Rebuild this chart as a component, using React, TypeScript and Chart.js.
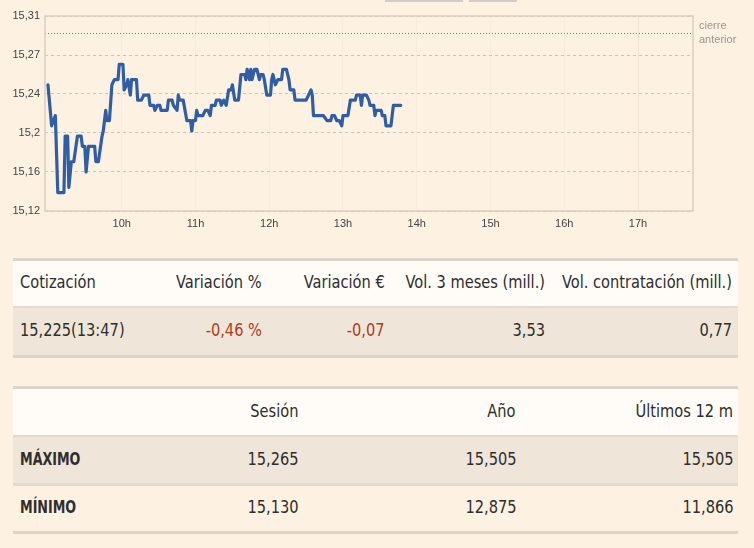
import React, { useEffect, useRef } from "react";
import { Chart, registerables } from "chart.js";

Chart.register(...registerables);

// ---- data ----
const times = [
  "09:00", "09:03", "09:06", "09:08", "09:13", "09:14", "09:16", "09:17", "09:19", "09:21",
  "09:24", "09:27", "09:28", "09:30", "09:31", "09:33", "09:38", "09:39", "09:41", "09:44",
  "09:45", "09:47", "09:48", "09:50", "09:52", "09:54", "09:57", "09:58", "10:01", "10:02",
  "10:04", "10:05", "10:07", "10:08", "10:12", "10:13", "10:16", "10:18", "10:22", "10:23",
  "10:26", "10:27", "10:29", "10:31", "10:32", "10:37", "10:38", "10:41", "10:42", "10:45",
  "10:46", "10:47", "10:50", "10:53", "10:56", "10:57", "10:58", "11:00", "11:01", "11:02",
  "11:06", "11:08", "11:10", "11:12", "11:13", "11:16", "11:17", "11:20", "11:21", "11:23",
  "11:25", "11:27", "11:29", "11:30", "11:32", "11:35", "11:37", "11:40", "11:41", "11:42",
  "11:44", "11:45", "11:46", "11:48", "11:50", "11:52", "11:53", "11:55", "11:56", "11:58",
  "12:01", "12:02", "12:03", "12:05", "12:07", "12:10", "12:11", "12:14", "12:16", "12:17",
  "12:20", "12:21", "12:30", "12:32", "12:34", "12:35", "12:36", "12:44", "12:47", "12:50",
  "12:51", "12:53", "12:55", "12:57", "12:59", "13:00", "13:04", "13:06", "13:10", "13:11",
  "13:14", "13:15", "13:16", "13:19", "13:21", "13:22", "13:25", "13:26", "13:27", "13:31",
  "13:32", "13:34", "13:35", "13:39", "13:41", "13:47",
];

const prices = [
  15.245, 15.205, 15.215, 15.14, 15.14, 15.195, 15.195, 15.145, 15.17, 15.17,
  15.195, 15.195, 15.185, 15.185, 15.16, 15.185, 15.185, 15.17, 15.17, 15.195,
  15.2, 15.22, 15.21, 15.21, 15.245, 15.25, 15.25, 15.265, 15.265, 15.24,
  15.245, 15.25, 15.235, 15.25, 15.25, 15.23, 15.23, 15.235, 15.235, 15.225,
  15.225, 15.22, 15.225, 15.225, 15.22, 15.22, 15.23, 15.23, 15.225, 15.22,
  15.235, 15.23, 15.23, 15.21, 15.21, 15.2, 15.21, 15.21, 15.22, 15.215,
  15.215, 15.22, 15.22, 15.215, 15.225, 15.225, 15.23, 15.23, 15.225, 15.23,
  15.225, 15.24, 15.24, 15.245, 15.23, 15.23, 15.255, 15.255, 15.25, 15.26,
  15.25, 15.26, 15.25, 15.26, 15.26, 15.25, 15.255, 15.255, 15.25, 15.235,
  15.235, 15.25, 15.255, 15.245, 15.25, 15.25, 15.26, 15.26, 15.25, 15.24,
  15.24, 15.23, 15.23, 15.235, 15.24, 15.235, 15.215, 15.215, 15.21, 15.21,
  15.215, 15.215, 15.21, 15.21, 15.205, 15.215, 15.215, 15.23, 15.23, 15.235,
  15.235, 15.225, 15.235, 15.235, 15.23, 15.225, 15.225, 15.215, 15.22, 15.22,
  15.215, 15.215, 15.205, 15.205, 15.225, 15.225,
];

const prevClose = 15.295;

const yTickValues = [15.122, 15.16, 15.198, 15.236, 15.274, 15.312];
const yTickLabels = ["15,12", "15,16", "15,2", "15,24", "15,27", "15,31"];

const xTickTimes = ["10:00", "11:00", "12:00", "13:00", "14:00", "15:00", "16:00", "17:00"];
const xTickLabels = ["10h", "11h", "12h", "13h", "14h", "15h", "16h", "17h"];
const xAxisStart = "08:57.6";
const xAxisEnd = "17:44.7";

const table1Headers = ["Cotización", "Variación %", "Variación €", "Vol. 3 meses (mill.)", "Vol. contratación (mill.)"];
const table1Values = ["15,225(13:47)", "-0,46 %", "-0,07", "3,53", "0,77"];

const table2Headers = ["", "Sesión", "Año", "Últimos 12 m"];
const table2RowLabels = ["MÁXIMO", "MÍNIMO"];
const maxValues = ["15,265", "15,505", "15,505"];
const minValues = ["15,130", "12,875", "11,866"];

// ---- helpers ----
const toMinutes = (s: string) => {
  const [h, m] = s.split(":").map(Number);
  return (h - 9) * 60 + m;
};

const PAGE_BG = "#fdf1e2";
const TEXT = "#2e2e2e";
const RED = "#ad3d1c";
const FONT = '"DejaVu Sans Condensed", "Liberation Sans Narrow", "Roboto", sans-serif';

function ChartBox() {
  const ref = useRef<HTMLCanvasElement | null>(null);
  useEffect(() => {
    if (!ref.current) return;
    const xMin = toMinutes(xAxisStart);
    const xMax = toMinutes(xAxisEnd);
    const framePlugin = {
      id: "frame",
      afterDraw(chart: any) {
        const { ctx, chartArea } = chart;
        const { left, top, right, bottom } = chartArea;
        ctx.save();
        ctx.strokeStyle = "#d8cec1";
        ctx.lineWidth = 1.5;
        ctx.strokeRect(left, top, right - left, bottom - top);
        const y = chart.scales.y.getPixelForValue(prevClose);
        ctx.fillStyle = "#9c9690";
        ctx.font = '11px "Liberation Sans", Arial, sans-serif';
        ctx.textBaseline = "middle";
        ctx.textAlign = "left";
        ctx.fillText("cierre", right + 6, y - 7);
        ctx.fillText("anterior", right + 6, y + 7);
        ctx.restore();
      },
    };
    const chart = new Chart(ref.current, {
      type: "line",
      data: {
        datasets: [
          {
            data: times.map((t, i) => ({ x: toMinutes(t), y: prices[i] })),
            borderColor: "#2f5ea6",
            borderWidth: 3.2,
            pointRadius: 0,
            tension: 0,
            borderJoinStyle: "round",
            borderCapStyle: "round",
          },
          {
            data: [
              { x: xMin, y: prevClose },
              { x: xMax, y: prevClose },
            ],
            borderColor: "#7a746e",
            borderWidth: 1,
            borderDash: [1, 2],
            pointRadius: 0,
          },
        ],
      },
      options: {
        animation: false,
        responsive: false,
        maintainAspectRatio: false,
        layout: { padding: { left: 0, top: 16, right: 61, bottom: 0 } },
        plugins: { legend: { display: false }, tooltip: { enabled: false } },
        scales: {
          x: {
            type: "linear",
            min: xMin,
            max: xMax,
            afterBuildTicks: (s: any) => {
              s.ticks = xTickTimes.map((t) => ({ value: toMinutes(t) }));
            },
            afterFit: (s: any) => {
              s.height = 24;
            },
            ticks: {
              callback: (_v: any, i: number) => xTickLabels[i],
              color: "#444",
              font: { family: '"Liberation Sans", Arial, sans-serif', size: 11 },
              padding: 6,
              maxRotation: 0,
              autoSkip: false,
            },
            grid: {
              drawTicks: false,
              color: (c: any) =>
                c.tick && c.tick.value === toMinutes("17:00") ? "rgba(120,100,80,0.09)" : "rgba(120,100,80,0.035)",
            },
            border: { display: false },
          },
          y: {
            min: yTickValues[0],
            max: yTickValues[yTickValues.length - 1],
            afterBuildTicks: (s: any) => {
              s.ticks = yTickValues.map((v) => ({ value: v }));
            },
            afterFit: (s: any) => {
              s.width = 45;
            },
            ticks: {
              callback: (_v: any, i: number) => yTickLabels[i],
              color: "#444",
              font: { family: '"Liberation Sans", Arial, sans-serif', size: 11 },
              padding: 5,
              autoSkip: false,
            },
            grid: { drawTicks: false, color: "#cdc3b6" },
            border: { display: false, dash: [3, 3] },
          },
        },
      },
      plugins: [framePlugin],
    } as any);
    return () => chart.destroy();
  }, []);
  return (
    <canvas
      ref={ref}
      width={754}
      height={235}
      style={{ position: "absolute", left: 0, top: 0, width: 754, height: 235 }}
    />
  );
}

const Bar = ({ top, height, bg }: { top: number; height: number; bg: string }) => (
  <div style={{ position: "absolute", left: 13, width: 725, top, height, background: bg }} />
);

const Cell = ({
  text,
  top,
  height,
  right,
  left,
  color,
  bold,
}: {
  text: string;
  top: number;
  height: number;
  right?: number;
  left?: number;
  color?: string;
  bold?: boolean;
}) => {
  const isLeft = left !== undefined;
  return (
    <div
      style={{
        position: "absolute",
        top,
        height,
        lineHeight: height + "px",
        ...(isLeft ? { left } : { right: 754 - (right as number) }),
        color: color || TEXT,
        fontWeight: bold ? 700 : 400,
        fontSize: 17,
        fontFamily: FONT,
        whiteSpace: "nowrap",
        transform: `scaleX(${bold ? 0.83 : 0.955})`,
        transformOrigin: isLeft ? "left center" : "right center",
      }}
    >
      {text}
    </div>
  );
};

export default function App() {
  const t1Right = [262, 385, 545, 732];
  const t2Right = [298, 516, 733];
  return (
    <div
      style={{
        position: "absolute",
        left: 0,
        top: 0,
        width: 754,
        height: 548,
        background: PAGE_BG,
        overflow: "hidden",
      }}
    >
      <div style={{ position: "absolute", left: 385, top: 0, width: 78, height: 2, background: "#d3ccc9" }} />
      <div style={{ position: "absolute", left: 469, top: 0, width: 48, height: 2, background: "#d3ccc9" }} />
      <ChartBox />

      {/* table 1 */}
      <Bar top={258} height={3} bg="#dcd4c9" />
      <Bar top={261} height={45} bg="#fffbf6" />
      <Bar top={306} height={2} bg="#e4dbcf" />
      <Bar top={308} height={47} bg="#efe6d9" />
      <Bar top={355} height={3} bg="#dcd4c9" />
      <Cell text={table1Headers[0]} top={260} height={45} left={20} />
      {table1Headers.slice(1).map((h, i) => (
        <Cell key={"h1" + i} text={h} top={260} height={45} right={t1Right[i]} />
      ))}
      <Cell text={table1Values[0]} top={307} height={47} left={20} />
      {table1Values.slice(1).map((v, i) => (
        <Cell
          key={"v1" + i}
          text={v}
          top={307}
          height={47}
          right={t1Right[i]}
          color={v.startsWith("-") ? RED : TEXT}
        />
      ))}

      {/* table 2 */}
      <Bar top={386} height={3} bg="#dcd4c9" />
      <Bar top={389} height={46} bg="#fffbf6" />
      <Bar top={435} height={2} bg="#e4dbcf" />
      <Bar top={437} height={46} bg="#efe6d9" />
      <Bar top={483} height={3} bg="#e4dbcf" />
      <Bar top={531} height={3} bg="#dcd4c9" />
      {table2Headers.slice(1).map((h, i) => (
        <Cell key={"h2" + i} text={h} top={388} height={46} right={t2Right[i]} />
      ))}
      <Cell text={table2RowLabels[0]} top={436} height={46} left={20} bold />
      {maxValues.map((v, i) => (
        <Cell key={"mx" + i} text={v} top={436} height={46} right={t2Right[i]} />
      ))}
      <Cell text={table2RowLabels[1]} top={485} height={45} left={20} bold />
      {minValues.map((v, i) => (
        <Cell key={"mn" + i} text={v} top={485} height={45} right={t2Right[i]} />
      ))}
    </div>
  );
}
